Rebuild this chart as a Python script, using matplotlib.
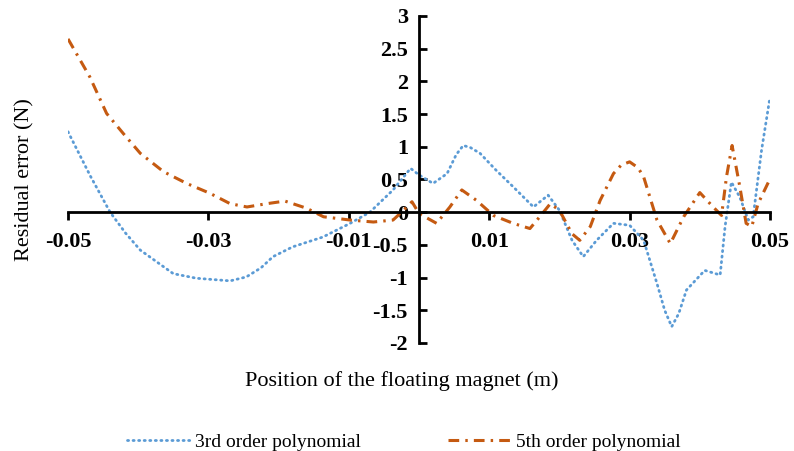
import matplotlib
matplotlib.use("Agg")
from matplotlib import pyplot as plt

# values
x3 = [-0.05, -0.0468, -0.044, -0.0418, -0.0397, -0.035, -0.0317, -0.0269, -0.0246, -0.0225,
      -0.0208, -0.018, -0.0137, -0.0098, -0.007, -0.0037, -0.0012, 0.0, 0.002, 0.004,
      0.0053, 0.0063, 0.0073, 0.0087, 0.011, 0.0134, 0.0163, 0.0184, 0.020, 0.0218,
      0.0234, 0.0253, 0.0277, 0.030, 0.032, 0.0339, 0.0350, 0.036, 0.0370, 0.0381,
      0.0407, 0.0429, 0.0436, 0.0445, 0.0457, 0.0469, 0.0476, 0.0488, 0.05]
y3 = [1.23, 0.55, 0.0, -0.32, -0.58, -0.94, -1.01, -1.05, -0.99, -0.85,
      -0.68, -0.53, -0.38, -0.17, 0.0, 0.34, 0.67, 0.57, 0.44, 0.59,
      0.88, 1.02, 0.99, 0.90, 0.64, 0.39, 0.08, 0.26, 0.03, -0.43,
      -0.68, -0.43, -0.17, -0.2, -0.43, -1.09, -1.5, -1.75, -1.55, -1.19,
      -0.89, -0.96, -0.22, 0.46, 0.23, -0.12, -0.07, 0.95, 1.76]

x5 = [-0.05, -0.0469, -0.0445, -0.0421, -0.0397, -0.0364, -0.0331, -0.0298, -0.0269, -0.0245,
      -0.0217, -0.0191, -0.016, -0.0136, -0.0098, -0.0065, -0.0037, -0.0022, -0.001, 0.0,
      0.0025, 0.0044, 0.0061, 0.0082, 0.0106, 0.0134, 0.0158, 0.0172, 0.0187, 0.020,
      0.0218, 0.0229, 0.0244, 0.0258, 0.0277, 0.0288, 0.030, 0.0312, 0.032, 0.0339,
      0.0358, 0.0377, 0.040, 0.0419, 0.0431, 0.0438, 0.0446, 0.0457, 0.0466, 0.0474,
      0.0483, 0.05]
y5 = [2.65, 2.07, 1.51, 1.20, 0.90, 0.62, 0.44, 0.29, 0.13, 0.08,
      0.13, 0.17, 0.06, -0.07, -0.12, -0.15, -0.12, 0.03, 0.16, -0.02,
      -0.17, 0.08, 0.34, 0.18, -0.05, -0.17, -0.25, -0.07, 0.13, 0.03,
      -0.33, -0.43, -0.22, 0.18, 0.59, 0.72, 0.77, 0.68, 0.54, -0.12,
      -0.48, -0.07, 0.30, 0.08, -0.05, 0.54, 1.02, 0.39, -0.17, -0.22,
      0.13, 0.51]

xticks = [-0.05, -0.03, -0.01, 0.01, 0.03, 0.05]
yticks = [-2, -1.5, -1, -0.5, 0, 0.5, 1, 1.5, 2, 2.5, 3]

plt.rcParams['font.family'] = ['Liberation Serif', 'DejaVu Serif']

fig = plt.figure(figsize=(7.94, 4.51), dpi=100)
ax = fig.add_axes([68/794, 1-343/451, 702/794, 327/451])

l3, = ax.plot(x3, y3, color='#5B9BD5', lw=2, linestyle=(0, (0.4, 1.6)),
              dash_capstyle='round')
l5, = ax.plot(x5, y5, color='#C55A11', lw=2.2, linestyle=(0, (3.5, 2, 0.8, 2)))

ax.set_xlim(-0.05, 0.05)
ax.set_ylim(-2, 3)
ax.spines['left'].set_position(('data', 0))
ax.spines['bottom'].set_position(('data', 0))
ax.spines['top'].set_visible(False)
ax.spines['right'].set_visible(False)
ax.spines['left'].set_linewidth(2)
ax.spines['bottom'].set_linewidth(2)

ax.set_xticks(xticks)
ax.set_xticklabels(['%g' % v for v in xticks])
ax.set_yticks(yticks)
ax.set_yticklabels(['%g' % v for v in yticks])
ax.tick_params(axis='x', direction='out', length=6, width=2, pad=8, labelsize=16)
ax.tick_params(axis='y', direction='in', length=6, width=2, pad=8, labelsize=16)
for t in ax.get_xticklabels() + ax.get_yticklabels():
    t.set_fontweight('bold')

fig.text(25/794, 1-180/451, 'Residual error (N)', rotation=90, ha='center', va='center', fontsize=16)
fig.text(402/794, 1-381/451, 'Position of the floating magnet (m)', ha='center', va='center', fontsize=16)
fig.legend([l3, l5], ['3rd order polynomial', '5th order polynomial'], loc='center left',
           bbox_to_anchor=(127/794, 1-442/451), ncol=2, frameon=False, fontsize=14,
           handlelength=3.25, handletextpad=0.25, columnspacing=4.5,
           borderpad=0, borderaxespad=0)

fig.savefig('out.png', dpi=100)
